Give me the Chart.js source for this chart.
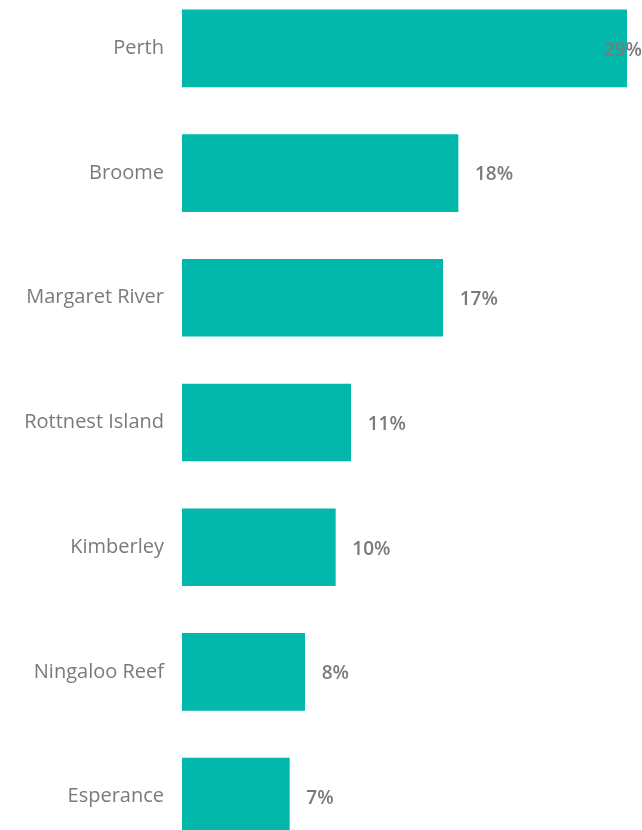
<html>

<head>
    <title>Destinations</title>
    <script src="https://cdn.jsdelivr.net/npm/chart.js@4/dist/chart.umd.min.js"></script>
    <style>
        body { margin: 0; background: #fff; overflow: hidden; }
        #chartCanvas { position: absolute; left: 0; top: -44px; }
    </style>
</head>

<body>
    <canvas id="chartCanvas" width="642" height="933"></canvas>

    <script>
        const places = ['Perth', 'Broome', 'Margaret River', 'Rottnest Island', 'Kimberley', 'Ningaloo Reef', 'Esperance']
        const shares = [29, 18, 17, 11, 10, 8, 7]
        const axisMax = 30

        const grey = '#7a7a7a'

        // draws "29%" etc. to the right of each bar, kept inside the canvas
        const valueLabels = {
            id: 'valueLabels',
            afterDatasetsDraw(chart) {
                const ctx = chart.ctx
                const meta = chart.getDatasetMeta(0)
                ctx.save()
                ctx.font = '600 19px "Open Sans", sans-serif'
                ctx.fillStyle = grey
                ctx.textBaseline = 'middle'
                meta.data.forEach((bar, i) => {
                    const text = shares[i] + '%'
                    const w = ctx.measureText(text).width
                    const x = Math.min(bar.x + 17, chart.width - w)
                    ctx.fillText(text, x, bar.y + 2)
                })
                ctx.restore()
            },
        }

        new Chart(document.getElementById('chartCanvas'), {
            type: 'bar',
            data: {
                labels: places,
                datasets: [
                    {
                        data: shares,
                        backgroundColor: '#01b8aa',
                        barThickness: 77,
                    },
                ],
            },
            options: {
                indexAxis: 'y',
                responsive: false,
                animation: false,
                layout: { padding: 0 },
                plugins: { legend: { display: false }, tooltip: { enabled: false } },
                scales: {
                    x: { display: false, min: 0, max: axisMax },
                    y: {
                        grid: { display: false, drawTicks: false },
                        border: { display: false },
                        ticks: {
                            color: grey,
                            padding: 18,
                            font: { family: '"Open Sans", sans-serif', size: 20 },
                        },
                        afterFit: s => { s.width = 182 },
                    },
                },
            },
            plugins: [valueLabels],
        })
    </script>
</body>

</html>
